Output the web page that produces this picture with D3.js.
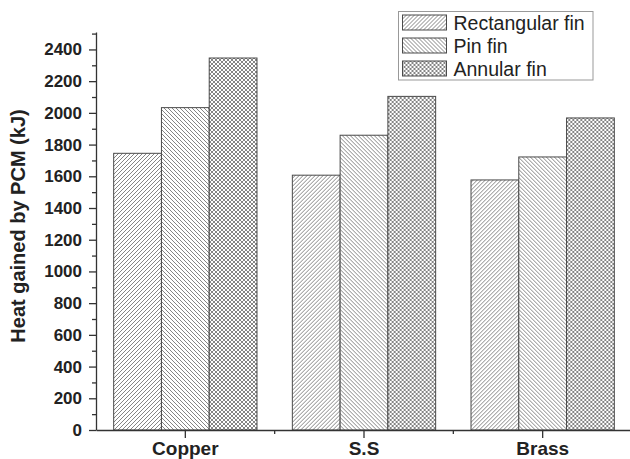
<!DOCTYPE html>
<html>
<head>
<meta charset="utf-8">
<script src="https://cdn.jsdelivr.net/npm/d3@7"></script>
<style>
    body { margin: 0; background: #fff; }
    svg { display: block; font-family: "Liberation Sans", Arial, sans-serif; }
    .axis path, .axis line { stroke: #333; stroke-width: 1.3; }
    .axis text { font-size: 17px; font-weight: bold; fill: #222; }
</style>
</head>
<body>
<svg id="chart"></svg>
<script>
const categories = ["Copper", "S.S", "Brass"];
const seriesNames = ["Rectangular fin", "Pin fin", "Annular fin"];
const rectangularFin = [1745, 1607, 1577];
const pinFin = [2033, 1859, 1722];
const annularFin = [2346, 2104, 1968];
const yTicks = [0, 200, 400, 600, 800, 1000, 1200, 1400, 1600, 1800, 2000, 2200, 2400];
const yMinorTicks = d3.range(100, 2600, 200);

const seriesValues = [rectangularFin, pinFin, annularFin];
const patternIds = ["hatchRight", "hatchLeft", "crossHatch"];

const width = 630, height = 459;
const margin = { top: 32, right: 0, bottom: 29, left: 96 };

const svg = d3.select("#chart")
    .attr("width", width)
    .attr("height", height);

// hatch patterns
const defs = svg.append("defs");
function addPattern(id, paths) {
    const p = defs.append("pattern")
        .attr("id", id)
        .attr("patternUnits", "userSpaceOnUse")
        .attr("width", 4)
        .attr("height", 4);
    p.append("rect").attr("width", 4).attr("height", 4).attr("fill", "#fff");
    paths.forEach(d => p.append("path")
        .attr("d", d)
        .attr("stroke", "#777")
        .attr("stroke-width", 0.9)
        .attr("fill", "none"));
}
addPattern("hatchRight", ["M-1,1 l2,-2 M0,4 l4,-4 M3,5 l2,-2"]);
addPattern("hatchLeft", ["M-1,3 l2,2 M0,0 l4,4 M3,-1 l2,2"]);
addPattern("crossHatch", ["M-1,1 l2,-2 M0,4 l4,-4 M3,5 l2,-2", "M-1,3 l2,2 M0,0 l4,4 M3,-1 l2,2"]);

const xScale = d3.scaleBand()
    .domain(categories)
    .range([margin.left, width + 2]);

const xInner = d3.scaleBand()
    .domain(seriesNames)
    .range([0, xScale.step()])
    .paddingOuter(0.37);

const yScale = d3.scaleLinear()
    .domain([0, 2510])
    .range([height - margin.bottom, margin.top]);

// bars
const groups = svg.selectAll(".group")
    .data(categories)
    .enter().append("g")
    .attr("class", "group")
    .attr("transform", d => `translate(${xScale(d)},0)`);

groups.selectAll(".bar")
    .data((c, i) => seriesNames.map((s, j) => ({ series: s, value: seriesValues[j][i], idx: j })))
    .enter().append("rect")
    .attr("class", "bar")
    .attr("x", d => xInner(d.series))
    .attr("y", d => yScale(d.value))
    .attr("width", xInner.bandwidth())
    .attr("height", d => yScale(0) - yScale(d.value))
    .attr("fill", d => `url(#${patternIds[d.idx]})`)
    .attr("stroke", "#4a4a4a")
    .attr("stroke-width", 1);

// y axis
svg.append("g")
    .attr("class", "y axis")
    .attr("transform", `translate(${margin.left},0)`)
    .call(d3.axisLeft(yScale).tickValues(yTicks).tickFormat(d3.format("d"))
        .tickSize(7).tickSizeOuter(0).tickPadding(7));

svg.append("g")
    .attr("class", "y axis minor")
    .attr("transform", `translate(${margin.left},0)`)
    .call(d3.axisLeft(yScale).tickValues(yMinorTicks).tickSize(4).tickSizeOuter(0).tickFormat(""))
    .select(".domain").remove();

// x axis
const xAxis = svg.append("g")
    .attr("class", "x axis")
    .attr("transform", `translate(0,${yScale(0)})`)
    .call(d3.axisBottom(xScale).tickSize(8).tickSizeOuter(0).tickPadding(4));
xAxis.selectAll("text").style("font-size", "19px");

const boundaries = categories.slice(1).map(c => xScale(c));
svg.append("g")
    .attr("class", "x axis minor")
    .selectAll("line")
    .data(boundaries)
    .enter().append("line")
    .attr("x1", d => d).attr("x2", d => d)
    .attr("y1", yScale(0)).attr("y2", yScale(0) + 4);

// y label
svg.append("text")
    .attr("transform", `translate(25,${(yScale(0) + yScale(2510)) / 2 - 5}) rotate(-90)`)
    .attr("text-anchor", "middle")
    .style("font-size", "20px")
    .style("font-weight", "bold")
    .style("fill", "#222")
    .text("Heat gained by PCM (kJ)");

// legend
const legend = svg.append("g").attr("class", "legend");
legend.append("rect")
    .attr("x", 398.5).attr("y", 11.5)
    .attr("width", 194.5).attr("height", 68.5)
    .attr("fill", "#fff")
    .attr("stroke", "#999")
    .attr("stroke-width", 1);

const items = legend.selectAll(".item")
    .data(seriesNames)
    .enter().append("g")
    .attr("class", "item")
    .attr("transform", (d, i) => `translate(402.5,${15 + i * 23})`);

items.append("rect")
    .attr("width", 44).attr("height", 15)
    .attr("fill", (d, i) => `url(#${patternIds[i]})`)
    .attr("stroke", "#4a4a4a");

items.append("text")
    .attr("x", 51).attr("y", 14.5)
    .style("font-size", "19.5px")
    .style("fill", "#222")
    .text(d => d);
</script>
</body>
</html>
